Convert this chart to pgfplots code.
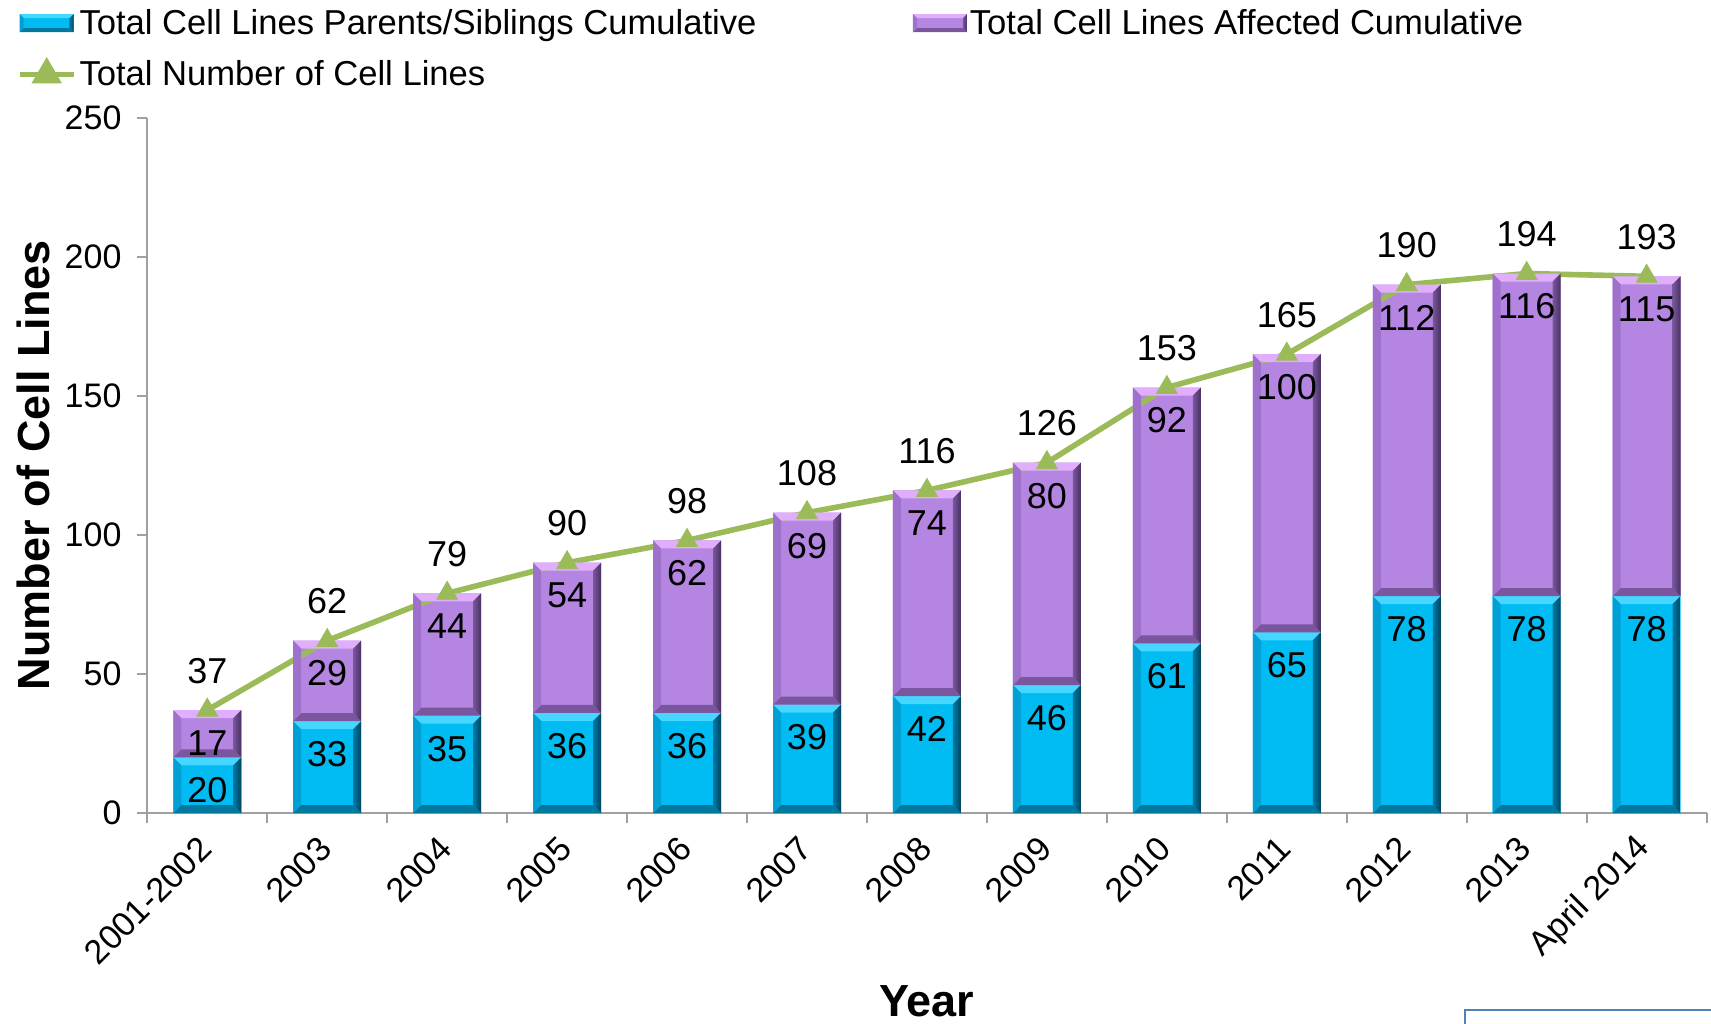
\documentclass[border=0pt]{standalone}
\usepackage{fontspec}
\setmainfont{Liberation Sans}
\usepackage{pgfplots}
\usepackage{pgfplotstable}
\pgfplotsset{compat=1.18}
\pgfplotsset{/pgf/number format/assume math mode=true}

\definecolor{barblue}{RGB}{0,188,242}
\definecolor{barbluetop}{RGB}{70,214,255}
\definecolor{barblueedgein}{RGB}{0,150,200}
\definecolor{barblueedge}{RGB}{0,40,62}
\definecolor{barbluebot}{RGB}{0,120,160}
\definecolor{barblueleft}{RGB}{0,160,212}
\definecolor{barpurple}{RGB}{181,134,225}
\definecolor{barpurpletop}{RGB}{224,174,252}
\definecolor{barpurpleedgein}{RGB}{145,105,185}
\definecolor{barpurpleedge}{RGB}{48,30,68}
\definecolor{barpurplebot}{RGB}{122,86,158}
\definecolor{barpurpleleft}{RGB}{158,114,204}
\definecolor{linegreen}{RGB}{155,187,89}
\definecolor{axisgray}{RGB}{160,160,160}
\definecolor{panelblue}{RGB}{79,129,189}

\pgfdeclarehorizontalshading{blueedge}{100bp}{color(0bp)=(barblueedgein); color(100bp)=(barblueedge)}
\pgfdeclarehorizontalshading{purpleedge}{100bp}{color(0bp)=(barpurpleedgein); color(100bp)=(barpurpleedge)}

\newcommand\ticksize{\fontsize{17}{20}\selectfont}
\newcommand\labelsize{\fontsize{18}{21}\selectfont}
\newcommand\legendsize{\fontsize{17.3}{20}\selectfont}
\newcommand\titlesize{\fontsize{22.5}{26}\selectfont\bfseries}

% cumulative counts per period
\pgfplotstableread{
idx par aff tot
0  20  17  37
1  33  29  62
2  35  44  79
3  36  54  90
4  36  62  98
5  39  69 108
6  42  74 116
7  46  80 126
8  61  92 153
9  65 100 165
10 78 112 190
11 78 116 194
12 78 115 193
}\cells

% bevelled faces of a bar whose top centre is the origin:
% half width \bvW, height \bvH, bevel \bvB
\newdimen\bvW \newdimen\bvH \newdimen\bvB
\newcommand\bevelfaces[4]{%
  \pgfsetfillcolor{#1}%
  \pgfpathmoveto{\pgfpoint{-\bvW}{0pt}}%
  \pgfpathlineto{\pgfpoint{\bvW}{0pt}}%
  \pgfpathlineto{\pgfpoint{\bvW-\bvB}{-\bvB}}%
  \pgfpathlineto{\pgfpoint{-\bvW+\bvB}{-\bvB}}%
  \pgfpathclose\pgfusepath{fill}%
  \pgfsetfillcolor{#2}%
  \pgfpathmoveto{\pgfpoint{-\bvW}{-\bvH}}%
  \pgfpathlineto{\pgfpoint{\bvW}{-\bvH}}%
  \pgfpathlineto{\pgfpoint{\bvW-\bvB}{-\bvH+\bvB}}%
  \pgfpathlineto{\pgfpoint{-\bvW+\bvB}{-\bvH+\bvB}}%
  \pgfpathclose\pgfusepath{fill}%
  \pgfsetfillcolor{#3}%
  \pgfpathmoveto{\pgfpoint{-\bvW}{-\bvH}}%
  \pgfpathlineto{\pgfpoint{-\bvW}{0pt}}%
  \pgfpathlineto{\pgfpoint{-\bvW+\bvB}{-\bvB}}%
  \pgfpathlineto{\pgfpoint{-\bvW+\bvB}{-\bvH+\bvB}}%
  \pgfpathclose\pgfusepath{fill}%
  \pgfpathmoveto{\pgfpoint{\bvW}{0pt}}%
  \pgfpathlineto{\pgfpoint{\bvW}{-\bvH}}%
  \pgfpathlineto{\pgfpoint{\bvW-\bvB}{-\bvH+\bvB}}%
  \pgfpathlineto{\pgfpoint{\bvW-\bvB}{-\bvB}}%
  \pgfpathclose\pgfshadepath{#4}{0}\pgfusepath{discard}%
}
% bar-top marks: segment height comes from \segh (data units, 347.6pt per 250)
\pgfdeclareplotmark{bevelblue}{%
  \pgfmathsetlength\bvH{\segh*1.3904pt}\bvW=17pt\bvB=4pt
  \bevelfaces{barbluetop}{barbluebot}{barblueleft}{blueedge}}
\pgfdeclareplotmark{bevelpurple}{%
  \pgfmathsetlength\bvH{\segh*1.3904pt}\bvW=17pt\bvB=4pt
  \bevelfaces{barpurpletop}{barpurplebot}{barpurpleleft}{purpleedge}}

\pgfplotsset{
  bluelegend/.style={legend image code/.code={%
      \pgftransformshift{\pgfpoint{16.8pt}{4.5pt}}\bvW=13.5pt\bvH=9pt\bvB=2pt
      \pgfsetfillcolor{barblue}%
      \pgfpathrectanglecorners{\pgfpoint{-\bvW}{-\bvH}}{\pgfpoint{\bvW}{0pt}}\pgfusepath{fill}%
      \bevelfaces{barbluetop}{barbluebot}{barblueleft}{blueedge}}},
  purplelegend/.style={legend image code/.code={%
      \pgftransformshift{\pgfpoint{16.8pt}{4.5pt}}\bvW=13.5pt\bvH=9pt\bvB=2pt
      \pgfsetfillcolor{barpurple}%
      \pgfpathrectanglecorners{\pgfpoint{-\bvW}{-\bvH}}{\pgfpoint{\bvW}{0pt}}\pgfusepath{fill}%
      \bevelfaces{barpurpletop}{barpurplebot}{barpurpleleft}{purpleedge}}},
  linelegend/.style={legend image code/.code={%
      \draw[##1, mark=none] plot coordinates {(3.3pt,0pt) (30.3pt,0pt)};
      \draw[##1, mark options={solid}] plot[mark=triangle*] coordinates {(16.8pt,0pt)};}},
  frame/.style={
    at={(0,0)}, anchor=south west,
    width=779.65pt, height=347.6pt, scale only axis,
    xmin=-0.5, xmax=12.5, ymin=0, ymax=250,
    clip=false,
  },
  inlabel/.style={forget plot, draw=none, nodes near coords, point meta=explicit,
    every node near coord/.append style={anchor=center, yshift=-16.5pt, font=\labelsize, text=black}},
}

\begin{document}
\begin{tikzpicture}
\useasboundingbox (-73.65pt,-105pt) rectangle (781.85pt,406.5pt);

% stacked bars with the axes
\begin{axis}[frame,
  ybar stacked, bar width=34pt,
  axis x line*=bottom, axis y line*=left,
  axis line style={axisgray, line width=1pt},
  tick style={axisgray, line width=1pt},
  tick align=outside, major tick length=5pt,
  ytick={0,50,...,250},
  xtick={-0.5,0.5,...,12.5},
  x tick label as interval,
  xticklabels={2001-2002,2003,2004,2005,2006,2007,2008,2009,2010,2011,2012,2013,April 2014},
  xticklabel style={xshift=1.6pt, yshift=-7.5pt, rotate=45, anchor=east, font=\ticksize},
  yticklabel style={xshift=-4.4pt, font=\ticksize},
  ylabel={Number of Cell Lines},
  ylabel style={at={(axis description cs:-0.0731,0.5)}, anchor=center, font=\titlesize},
  xlabel={Year},
  xlabel style={at={(axis description cs:0.5,-0.292)}, anchor=base, font=\titlesize},
]
\addplot[fill=barblue, draw=none] table[x=idx, y=par] {\cells};
\addplot[fill=barpurple, draw=none] table[x=idx, y=aff] {\cells};
\end{axis}

% bevels, value labels, total line and legend
\begin{axis}[frame, hide axis,
  legend columns=2,
  legend cell align=left,
  legend style={draw=none, fill=none, font=\legendsize,
    at={(axis description cs:-0.0877,1.167)}, anchor=north west,
    nodes={inner sep=1.5pt},
    /tikz/every even column/.append style={column sep=76.7pt},
    /tikz/row sep=8.7pt},
]
\addplot[forget plot, only marks, mark=bevelblue,
  visualization depends on={\thisrow{par} \as \segh}]
  table[x=idx, y=par] {\cells};
\addplot[forget plot, only marks, mark=bevelpurple,
  visualization depends on={\thisrow{aff} \as \segh}]
  table[x=idx, y=tot] {\cells};
\addplot[inlabel] table[x=idx, y=par, meta=par] {\cells};
\addplot[inlabel] table[x=idx, y=tot, meta=aff] {\cells};

\addlegendimage{bluelegend}
\addlegendentry{Total Cell Lines Parents/Siblings Cumulative}
\addlegendimage{purplelegend}
\addlegendentry{Total Cell Lines Affected Cumulative}
\addplot[linelegend, linegreen, line width=2.8pt, mark=triangle*, mark size=6pt,
  mark options={solid, line width=0.4pt, fill=linegreen},
  nodes near coords, point meta=explicit,
  every node near coord/.append style={anchor=center, yshift=19.7pt, font=\labelsize, text=black}]
  table[x=idx, y=tot, meta=tot] {\cells};
\addlegendentry{Total Number of Cell Lines}
\end{axis}

% edge of the neighbouring panel
\draw[panelblue, line width=1pt, fill=white] (659pt,-98.5pt) rectangle (800pt,-130pt);
\end{tikzpicture}
\end{document}
